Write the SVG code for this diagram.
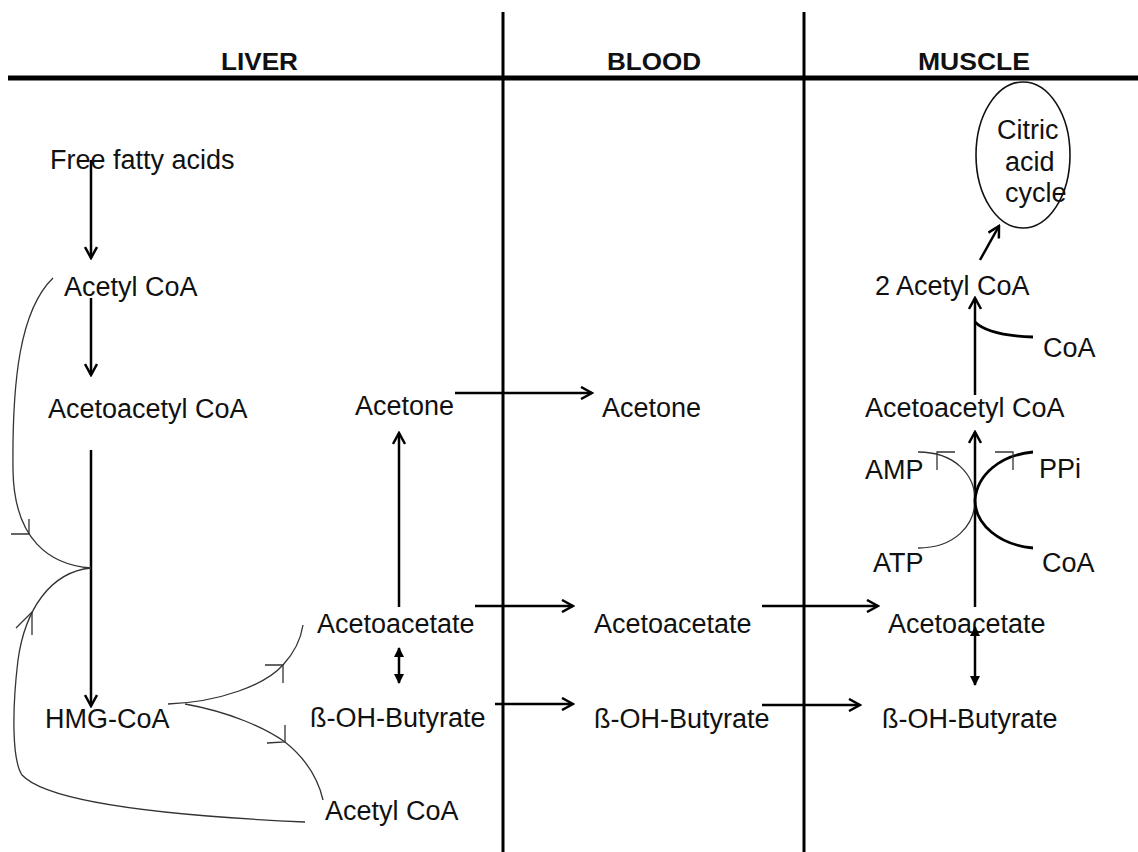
<svg xmlns="http://www.w3.org/2000/svg" width="1138" height="852" viewBox="0 0 1138 852">
<style>
text{font-family:"Liberation Sans",Arial,sans-serif;font-size:27px;fill:#111}
.h{font-weight:bold;font-size:24px}
.ar{stroke:#000;stroke-width:2.5;fill:none}
.th{stroke:#333;stroke-width:1.3;fill:none}
.tk{stroke:#000;stroke-width:2.8;fill:none}
</style>
<defs>
<marker id="a" viewBox="0 0 14 14" refX="12" refY="7" markerWidth="14" markerHeight="14" markerUnits="userSpaceOnUse" orient="auto"><path d="M1,1 L12,7 L1,13" fill="none" stroke="#000" stroke-width="2.5"/></marker>
<marker id="f" viewBox="0 0 10 10" refX="9" refY="5" markerWidth="10" markerHeight="10" markerUnits="userSpaceOnUse" orient="auto-start-reverse"><path d="M0,0 L10,5 L0,10 z" fill="#000"/></marker>
</defs>
<rect width="1138" height="852" fill="#fff"/>
<g id="frame">
<line x1="8" y1="78" x2="1138" y2="78" stroke="#000" stroke-width="5"/>
<line x1="503" y1="12" x2="503" y2="852" stroke="#000" stroke-width="3"/>
<line x1="804" y1="12" x2="804" y2="852" stroke="#000" stroke-width="3"/>
<text class="h" x="221" y="70" textLength="77" lengthAdjust="spacingAndGlyphs">LIVER</text>
<text class="h" x="607" y="70" textLength="94" lengthAdjust="spacingAndGlyphs">BLOOD</text>
<text class="h" x="918" y="70" textLength="112" lengthAdjust="spacingAndGlyphs">MUSCLE</text>
</g>
<g id="n-ffa"><text x="50" y="169">Free fatty acids</text></g>
<g id="n-acetylcoa-l"><text x="64" y="296">Acetyl CoA</text></g>
<g id="n-acacoa-l"><text x="48" y="418">Acetoacetyl CoA</text></g>
<g id="n-hmg"><text x="45" y="728">HMG-CoA</text></g>
<g id="n-acetone-l"><text x="355" y="415">Acetone</text></g>
<g id="n-acac-l"><text x="317" y="633">Acetoacetate</text></g>
<g id="n-bhb-l"><text x="310" y="727">ß-OH-Butyrate</text></g>
<g id="n-acetylcoa-b"><text x="325" y="820">Acetyl CoA</text></g>
<g id="n-acetone-b"><text x="602" y="417">Acetone</text></g>
<g id="n-acac-b"><text x="594" y="633">Acetoacetate</text></g>
<g id="n-bhb-b"><text x="594" y="728">ß-OH-Butyrate</text></g>
<g id="n-acac-m"><text x="888" y="633">Acetoacetate</text></g>
<g id="n-bhb-m"><text x="882" y="728">ß-OH-Butyrate</text></g>
<g id="n-acacoa-m"><text x="865" y="417">Acetoacetyl CoA</text></g>
<g id="n-2acetyl"><text x="875" y="295">2 Acetyl CoA</text></g>
<g id="n-coa1"><text x="1043" y="357">CoA</text></g>
<g id="n-amp"><text x="865" y="479">AMP</text></g>
<g id="n-ppi"><text x="1039" y="478">PPi</text></g>
<g id="n-atp"><text x="873" y="572">ATP</text></g>
<g id="n-coa2"><text x="1042" y="572">CoA</text></g>
<g id="n-tca">
<ellipse cx="1023" cy="155" rx="47" ry="73" fill="none" stroke="#111" stroke-width="1.6"/>
<text x="997" y="139">Citric</text>
<text x="1005" y="171">acid</text>
<text x="1005" y="202">cycle</text>
</g>
<g id="connectors">
<line class="ar" x1="91" y1="160" x2="91" y2="258" marker-end="url(#a)"/>
<line class="ar" x1="91" y1="298" x2="91" y2="375" marker-end="url(#a)"/>
<line class="ar" x1="91" y1="450" x2="91" y2="706" marker-end="url(#a)"/>
<path class="th" d="M53,278 C20,310 12,380 13,470 C14,540 50,565 91,568"/>
<path class="th" d="M11,534 L29,534 L29,519"/>
<path class="th" d="M91,568 C50,572 25,610 18,660 C12,710 12,760 22,775 C45,800 150,815 305,822"/>
<path class="th" d="M16,628 L32,612 L32,635"/>
<path class="th" d="M168,704 C220,702 265,685 283,665 C295,652 301,638 303,625"/>
<path class="th" d="M265,665 L283,665 L283,683"/>
<path class="th" d="M185,704 C230,712 265,728 285,742 C305,758 318,778 323,800"/>
<path class="th" d="M285,725 L285,742 L267,743"/>
<line class="ar" x1="399" y1="607" x2="399" y2="433" marker-end="url(#a)"/>
<line class="ar" x1="399" y1="648" x2="399" y2="683" marker-start="url(#f)" marker-end="url(#f)"/>
<line class="ar" x1="455" y1="393" x2="592" y2="393" marker-end="url(#a)"/>
<line class="ar" x1="475" y1="606" x2="573" y2="606" marker-end="url(#a)"/>
<line class="ar" x1="495" y1="704" x2="573" y2="704" marker-end="url(#a)"/>
<line class="ar" x1="762" y1="606" x2="878" y2="606" marker-end="url(#a)"/>
<line class="ar" x1="762" y1="705" x2="860" y2="705" marker-end="url(#a)"/>
<line class="ar" x1="975" y1="607" x2="975" y2="432" marker-end="url(#a)"/>
<line class="ar" x1="975" y1="395" x2="975" y2="298" marker-end="url(#a)"/>
<line class="ar" x1="980" y1="260" x2="999" y2="226" marker-end="url(#a)"/>
<path class="tk" d="M975,322 C985,332 1005,336 1033,337"/>
<line class="ar" x1="975" y1="627" x2="975" y2="685" marker-start="url(#f)" marker-end="url(#f)"/>
<path class="th" d="M918,452 C955,452 975,475 975,500 C975,525 955,548 918,548"/>
<path class="tk" d="M1033,452 C1000,455 977,475 975,500 C975,525 1000,545 1033,548"/>
<path class="th" d="M955,452 L937,452 L937,470"/>
<path class="th" d="M995,452 L1013,452 L1013,470"/>
</g>
</svg>
